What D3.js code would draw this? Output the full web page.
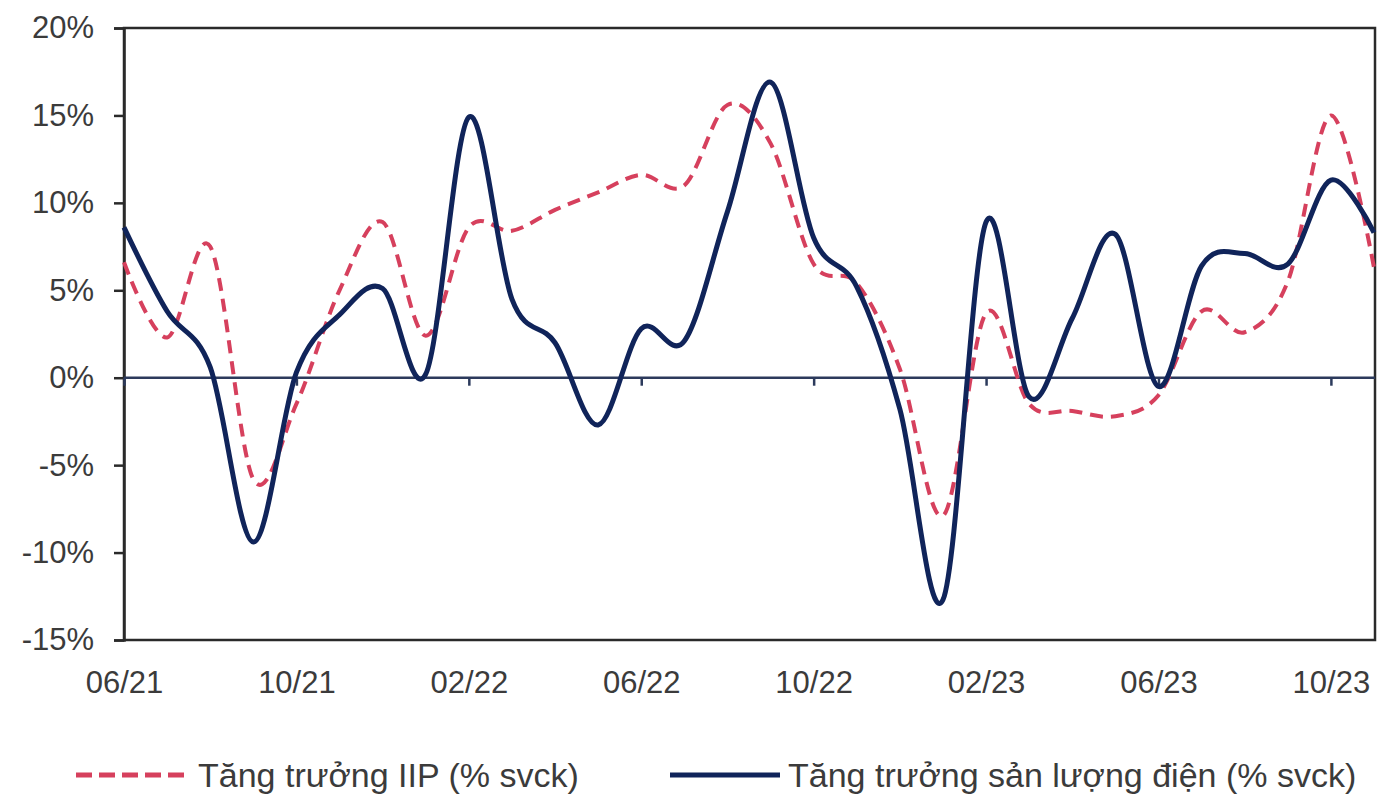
<!DOCTYPE html>
<html>
<head>
<meta charset="utf-8">
<script src="https://cdn.jsdelivr.net/npm/d3@7"></script>
<style>
  html, body { margin: 0; padding: 0; background: #fff; }
  svg { display: block; }
</style>
</head>
<body>
<svg id="chart" width="1380" height="795"></svg>
<script>
// Monthly series, 06/2021 – 11/2023 (% y/y)
const months = ["06/21","07/21","08/21","09/21","10/21","11/21","12/21",
  "01/22","02/22","03/22","04/22","05/22","06/22","07/22","08/22","09/22","10/22","11/22","12/22",
  "01/23","02/23","03/23","04/23","05/23","06/23","07/23","08/23","09/23","10/23","11/23"];

const iipGrowth = [6.6, 2.3, 7.5, -5.8, -1.5, 5.0, 8.9, 2.4, 8.6, 8.4, 9.6, 10.6, 11.6, 11.0, 15.6,
  13.4, 6.5, 5.4, 0.5, -7.9, 3.7, -1.5, -1.9, -2.2, -1.0, 3.8, 2.6, 5.5, 15.0, 6.3];

const powerGrowth = [8.6, 3.8, 0.6, -9.4, 0.3, 3.6, 5.1, 0.2, 14.9, 4.5, 2.0, -2.7, 2.8, 2.1, 9.5,
  16.9, 8.0, 5.2, -1.8, -12.7, 8.9, -1.1, 3.4, 8.2, -0.5, 6.4, 7.1, 6.5, 11.3, 8.3];

const xTickLabels = ["06/21","10/21","02/22","06/22","10/22","02/23","06/23","10/23"];
const yTicks = [-15, -10, -5, 0, 5, 10, 15, 20];

const legendLabels = ["Tăng trưởng IIP (% svck)", "Tăng trưởng sản lượng điện (% svck)"];

const colIIP = "#d6405d";
const colPower = "#10245a";
const textCol = "#3b3b3b";
const font = "'Liberation Sans', Arial, sans-serif";

const svg = d3.select("#chart");
const plotLeft = 124, plotRight = 1375, plotTop = 28, plotBottom = 640;

const x = d3.scalePoint().domain(months).range([plotLeft, 1374]);
const y = d3.scaleLinear().domain([-15, 20]).range([plotBottom, plotTop]);

// plot frame
svg.append("rect")
  .attr("x", plotLeft).attr("y", plotTop)
  .attr("width", plotRight - plotLeft).attr("height", plotBottom - plotTop)
  .attr("fill", "none").attr("stroke", "#2a2a2a").attr("stroke-width", 2.5);

// y axis
const yAxis = d3.axisLeft(y).tickValues(yTicks).tickSize(10).tickPadding(20)
  .tickFormat(d => d + "%");
const gy = svg.append("g").attr("transform", `translate(${plotLeft},0)`).call(yAxis);
gy.select(".domain").attr("stroke", "#2a2a2a").attr("stroke-width", 2.5);
gy.selectAll(".tick line").attr("stroke", "#2a2a2a").attr("stroke-width", 2.5);
gy.selectAll(".tick text").attr("fill", textCol)
  .style("font-family", font).style("font-size", "31px");

// zero line with ticks every 4 months
const xAxis = d3.axisBottom(x).tickValues(xTickLabels).tickSize(8).tickFormat("");
const gx = svg.append("g").attr("transform", `translate(0,${y(0)})`).call(xAxis);
gx.select(".domain").attr("stroke", "#2c3a5c").attr("stroke-width", 2.5)
  .attr("d", `M${plotLeft},0H${plotRight}`);
gx.selectAll(".tick line").attr("stroke", "#2c3a5c").attr("stroke-width", 2.5);

// x labels along the bottom
const gxl = svg.append("g").attr("transform", `translate(0,${plotBottom})`)
  .call(d3.axisBottom(x).tickValues(xTickLabels).tickSize(0).tickPadding(31));
gxl.select(".domain").remove();
gxl.selectAll(".tick text").attr("fill", textCol)
  .style("font-family", font).style("font-size", "31px");

// series
const line = d3.line()
  .x((d, i) => x(months[i]))
  .y(d => y(d))
  .curve(d3.curveCardinal.tension(0));

svg.append("path").datum(iipGrowth)
  .attr("d", line).attr("fill", "none")
  .attr("stroke", colIIP).attr("stroke-width", 4)
  .attr("stroke-dasharray", "13,8");

svg.append("path").datum(powerGrowth)
  .attr("d", line).attr("fill", "none")
  .attr("stroke", colPower).attr("stroke-width", 5)
  .attr("stroke-linejoin", "round");

// legend
const legend = svg.append("g").style("font-family", font).style("font-size", "34px");
legend.append("line").attr("x1", 76).attr("x2", 190).attr("y1", 775).attr("y2", 775)
  .attr("stroke", colIIP).attr("stroke-width", 5).attr("stroke-dasharray", "16,7");
legend.append("text").attr("x", 198).attr("y", 787).attr("fill", textCol).text(legendLabels[0]);
legend.append("line").attr("x1", 670).attr("x2", 780).attr("y1", 775).attr("y2", 775)
  .attr("stroke", colPower).attr("stroke-width", 5);
legend.append("text").attr("x", 788).attr("y", 787).attr("fill", textCol).text(legendLabels[1]);
</script>
</body>
</html>
